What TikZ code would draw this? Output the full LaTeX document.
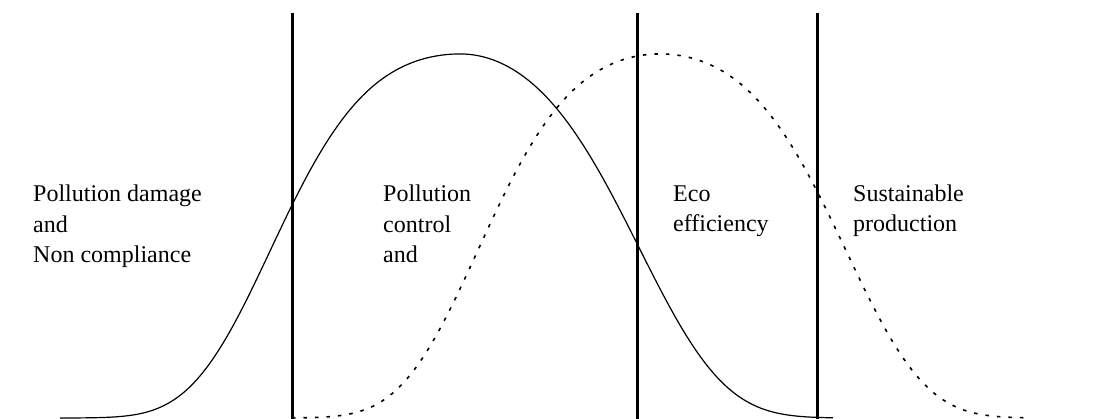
\documentclass[tikz,border=0pt]{standalone}
\usepackage{fontspec}
\setmainfont{Liberation Serif}
\usetikzlibrary{positioning}

\begin{document}
\begin{tikzpicture}[
    x=1pt, y=-1pt,
    stage/.style={draw=black, line width=3pt},
    curvesolid/.style={draw=black, line width=1.2pt},
    curvedotted/.style={draw=black, line width=1.6pt, dash pattern=on 3.5pt off 8pt},
    zone/.style={anchor=base west, align=left, inner sep=0pt,
        font=\fontsize{24}{30.5}\selectfont}
]
\useasboundingbox (0,0) rectangle (1096,419);

% --- Fronteras ---
\foreach \name/\xx in {b1/292, b2/637, b3/817} {
    \coordinate (\name top) at (\xx,13);
    \coordinate (\name bot) at (\xx,419);
    \draw[stage] (\name top) -- (\name bot);
}

% --- Curva continua ---
\draw[curvesolid]
    plot[domain=60:460, samples=100] (\x,{418-364*exp(-((460-\x)/320)^2-((460-\x)/235)^4)})
    -- plot[domain=460:833, samples=100] (\x,{418-364*exp(-((\x-460)/260)^2-((\x-460)/245)^4)});

% --- Curva punteada ---
\draw[curvedotted]
    plot[domain=292:660, samples=100] (\x,{418-364*exp(-((660-\x)/300)^2-((660-\x)/228)^4)})
    -- plot[domain=660:1027, samples=100] (\x,{418-364*exp(-((\x-660)/300)^2-((\x-660)/235)^4)});

% --- Etiquetas ---
\node[zone] (damage) at (33,263) {Pollution damage\\and\\Non compliance};
\node[zone] (control) at (383,263) {Pollution\\control\\and};
\node[zone] (eco) at (673,232) {Eco\\efficiency};
\node[zone] (sustain) at (853,232) {Sustainable\\production};

\end{tikzpicture}
\end{document}
